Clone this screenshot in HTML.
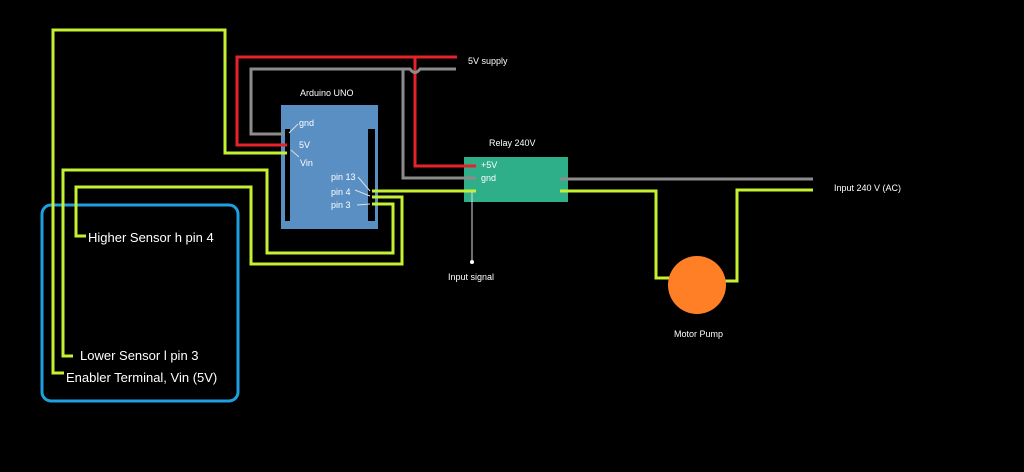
<!DOCTYPE html>
<html><head><meta charset="utf-8"><style>
html,body{margin:0;padding:0;background:#000;width:1024px;height:472px;overflow:hidden}
svg text{font-family:"Liberation Sans",sans-serif;fill:#fff}
</style></head><body>
<svg width="1024" height="472" xmlns="http://www.w3.org/2000/svg">
<rect width="1024" height="472" fill="#000"/>
<!-- Arduino -->
<rect x="281" y="105" width="97" height="124" fill="#5a8fc4"/>
<rect x="285" y="129" width="5" height="92" fill="#000"/>
<rect x="368" y="129" width="7" height="92" fill="#000"/>
<!-- Relay -->
<rect x="464" y="157" width="104" height="45" fill="#2fae8a"/>
<!-- Blue box -->
<rect x="42" y="205" width="196" height="196" rx="9" fill="none" stroke="#1ea0e0" stroke-width="3"/>
<g fill="none" stroke-width="3" stroke-linejoin="miter">
<!-- red -->
<polyline points="457,57 237,57 237,145 287,145" stroke="#e8222a"/>
<polyline points="415,57 415,166 476,166" stroke="#e8222a"/>
<!-- gray -->
<path d="M456,69 H420 Q415,76 410,69 H251 V134 H285" stroke="#8c8c8c"/>
<polyline points="403,69 403,178 476,178" stroke="#8c8c8c"/>
<polyline points="560,179 813,179" stroke="#8c8c8c"/>
<!-- green -->
<g stroke="#c6f032">
<polyline points="287,153 225,153 225,30 53,30 53,373 64,373"/>
<polyline points="372,191 476,191"/>
<polyline points="372,197 402,197 402,264 251,264 251,187 76,187 76,236 86,236"/>
<polyline points="372,204 393,204 393,253 267,253 267,170 63,170 63,356 73,356"/>
<polyline points="560,191 656,191 656,278 670,278"/>
<polyline points="724,281 737,281 737,190 813,190"/>
</g>
</g>
<g stroke="#ddd" stroke-width="1">
<line x1="472" y1="191" x2="472" y2="262"/>
<line x1="289" y1="133" x2="298" y2="124"/>
<line x1="291" y1="150" x2="299" y2="157"/>
<line x1="370" y1="191" x2="358" y2="177"/>
<line x1="370" y1="196" x2="355" y2="190"/>
<line x1="370" y1="204" x2="357" y2="205"/>
</g>
<circle cx="472" cy="262" r="2" fill="#fff"/>
<circle cx="697" cy="285" r="29" fill="#ff7f27"/>
<g font-size="9">
<text x="468" y="64">5V supply</text>
<text x="300" y="96">Arduino UNO</text>
<text x="299" y="126">gnd</text>
<text x="299" y="148">5V</text>
<text x="300" y="166">Vin</text>
<text x="331" y="180">pin 13</text>
<text x="331" y="195">pin 4</text>
<text x="331" y="208">pin 3</text>
<text x="489" y="146">Relay 240V</text>
<text x="481" y="168">+5V</text>
<text x="481" y="181">gnd</text>
<text x="448" y="280">Input signal</text>
<text x="674" y="337">Motor Pump</text>
<text x="834" y="191">Input 240 V (AC)</text>
</g>
<g font-size="13">
<text x="88" y="242">Higher Sensor h pin 4</text>
<text x="80" y="360">Lower Sensor l pin 3</text>
<text x="66" y="382">Enabler Terminal, Vin (5V)</text>
</g>
</svg>
</body></html>
